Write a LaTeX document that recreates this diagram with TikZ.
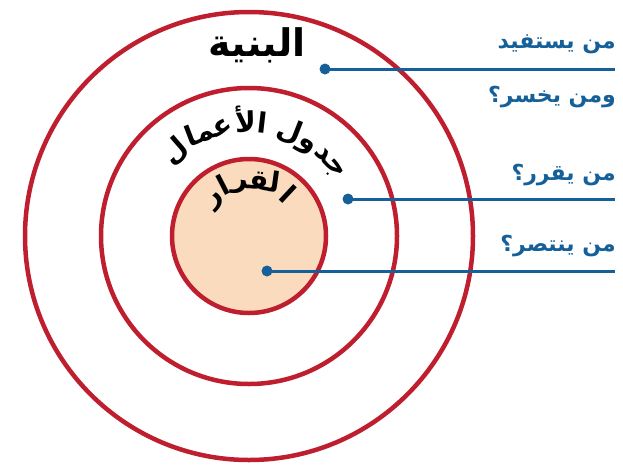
\documentclass[tikz,border=0pt]{standalone}
\usepackage{fontspec}
\TeXXeTstate=1
\newfontfamily\arfont[Script=Arabic]{DejaVu Sans}
\definecolor{ringred}{HTML}{BE1E2D}
\definecolor{lineblue}{HTML}{16609A}
\definecolor{peach}{HTML}{FADBBE}

\newlength\piecew
% measure an Arabic word cut into pieces (given left to right)
\newcommand\arcprep[4]{%
  \settowidth\piecew{#2#3}%
  \expandafter\xdef\csname #1tot\endcsname{\the\piecew}%
  \gdef\tmplist{}%
  \foreach \p in {#4}{%
    \settowidth\piecew{#2\beginR\p\endR}%
    \ifx\tmplist\empty \xdef\tmplist{\the\piecew/\p}%
    \else \xdef\tmplist{\tmplist,\the\piecew/\p}\fi
  }%
  \expandafter\global\expandafter\let\csname #1list\endcsname\tmplist}
% set the pieces along an arc round the current origin
\newcommand\arcput[4]{%
  \pgfmathsetmacro\curang{#3+\csname #1tot\endcsname/#4*28.6479}%
  \xdef\curang{\curang}%
  \expandafter\let\expandafter\piecelist\csname #1list\endcsname
  \foreach \w/\p in \piecelist {%
    \pgfmathsetmacro\halfang{\w/#4*28.6479}%
    \pgfmathsetmacro\midang{\curang-\halfang}%
    \node[rotate=\midang-90,anchor=base,inner sep=0pt] at (\midang:#4) {#2\beginR\p\endR};%
    \pgfmathsetmacro\nextang{\curang-2*\halfang}%
    \xdef\curang{\nextang}%
  }}

\newcommand\agendafont{\arfont\bfseries\fontsize{28}{32}\selectfont}
\newcommand\decisionfont{\arfont\bfseries\fontsize{28}{32}\selectfont}

\tikzset{
  ring/.style={draw=ringred,line width=4.5pt},
  dot/.style={circle,fill=lineblue,inner sep=0pt,minimum size=11pt},
  conn/.style={draw=lineblue,line width=3pt},
  question/.style={text=lineblue,anchor=east,inner sep=0pt,font=\arfont\bfseries\fontsize{22}{26}\selectfont}
}

\begin{document}
\arcprep{agenda}{\agendafont}{\beginR جدول الأعمال\endR}{ل,عما,لأ,ا,\ ,ل,و,جد}%
\arcprep{decision}{\decisionfont}{\beginR القرار\endR}{ر,ا,لقر,ا}%
\begin{tikzpicture}[x=1pt,y=1pt]
 \useasboundingbox (0,0) rectangle (623,-469);
 \coordinate (o) at (249,-236);
 \draw[ring] (o) circle (224);
 \draw[ring] (o) circle (148);
 \draw[ring,fill=peach] (o) circle (77);

 \node[font=\arfont\bfseries\fontsize{38}{42}\selectfont,inner sep=0pt] (outerlbl) at (257,-45) {\beginR البنية\endR};
 \begin{scope}[shift={(o)}]
  \arcput{agenda}{\agendafont}{85}{104}
  \arcput{decision}{\decisionfont}{92}{47}
 \end{scope}

 % questions on the right
 \node[question] (q1) at (616,-44) {\beginR من يستفيد\endR};
 \node[question] (q2) at (616,-97) {\beginR ومن يخسر؟\endR};
 \node[question] (q3) at (616,-175) {\beginR من يقرر؟\endR};
 \node[question] (q4) at (616,-246) {\beginR من ينتصر؟\endR};

 \node[dot] (d1) at (325,-69) {};
 \node[dot] (d2) at (348,-199) {};
 \node[dot] (d3) at (267,-271) {};
 \coordinate (e1) at (615,-69);
 \coordinate (e2) at (615,-199);
 \coordinate (e3) at (615,-271);
 \draw[conn] (d1.center) -- (e1);
 \draw[conn] (d2.center) -- (e2);
 \draw[conn] (d3.center) -- (e3);
\end{tikzpicture}
\end{document}
